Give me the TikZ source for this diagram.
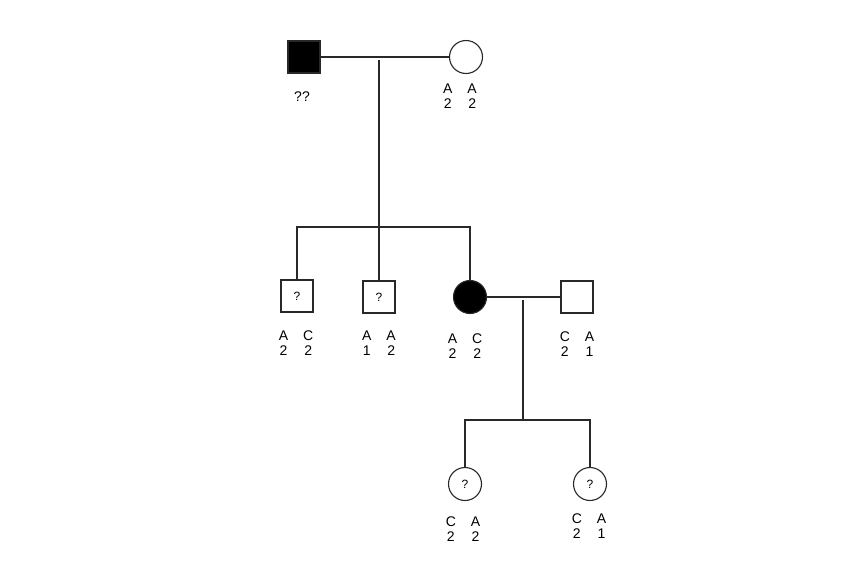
\documentclass[tikz,border=0pt]{standalone}
\usepackage{fontspec}
\setmainfont{Liberation Sans}
\usepackage{tikz}
\usetikzlibrary{positioning, calc}
\definecolor{peddark}{RGB}{40,40,40}
\tikzset{
  male/.style={rectangle, draw=peddark, fill=white, minimum size=32pt,
    inner sep=0pt, line width=1.1pt, font=\fontsize{12}{14}\selectfont},
  female/.style={circle, draw=peddark, fill=white, minimum size=33pt,
    inner sep=0pt, line width=1.1pt, font=\fontsize{12}{14}\selectfont},
  affected/.style={fill=black},
  geno/.style={inner sep=0pt, align=center, font=\fontsize{14}{15}\selectfont},
  pedline/.style={line width=1.1pt, color=peddark}
}
\newcommand{\genotype}[4]{%
  \begin{tabular}{@{}c@{\hspace{15pt}}c@{}}#1 & #2\\[0.5pt] #3 & #4\end{tabular}}

\begin{document}
\begin{tikzpicture}[x=1pt, y=-1pt]
  \useasboundingbox (0,0) rectangle (844,582);

  % --- Generation I ---
  \node[male, affected] (fa) at (304,57) {};
  \node[female] (mo) at (466,57) {};
  \node[geno] (fal) at (302,97) {??};
  \node[geno] (mol) at (460,98) {\genotype{A}{A}{2}{2}};
  \coordinate (d1) at (379,60);
  \coordinate (sib1) at (379,227);

  \draw[pedline] (fa) -- (mo);
  \draw[pedline] (d1) -- (sib1);

  % --- Generation II ---
  \node[male] (c1) at (297,296) {?};
  \node[male] (c2) at (379,297) {?};
  \node[female, affected] (c3) at (470,297) {};
  \node[male] (sp) at (577,297) {};
  \node[geno] (c1l) at (296,345) {\genotype{A}{C}{2}{2}};
  \node[geno] (c2l) at (379,345) {\genotype{A}{A}{1}{2}};
  \node[geno] (c3l) at (465,348) {\genotype{A}{C}{2}{2}};
  \node[geno] (spl) at (577,346) {\genotype{C}{A}{2}{1}};
  \coordinate (d2) at (523,300);
  \coordinate (sib2) at (523,420);

  \draw[pedline] (sib1) -- (c2);
  \draw[pedline] (c1.north) |- (sib1) -| (c3.north);
  \draw[pedline] (c3) -- (sp);
  \draw[pedline] (d2) -- (sib2);

  % --- Generation III ---
  \node[female] (g1) at (465,484) {?};
  \node[female] (g2) at (590,484) {?};
  \node[geno] (g1l) at (463,531) {\genotype{C}{A}{2}{2}};
  \node[geno] (g2l) at (589,528) {\genotype{C}{A}{2}{1}};

  \draw[pedline] (g1.north) |- (sib2) -| (g2.north);
\end{tikzpicture}
\end{document}
